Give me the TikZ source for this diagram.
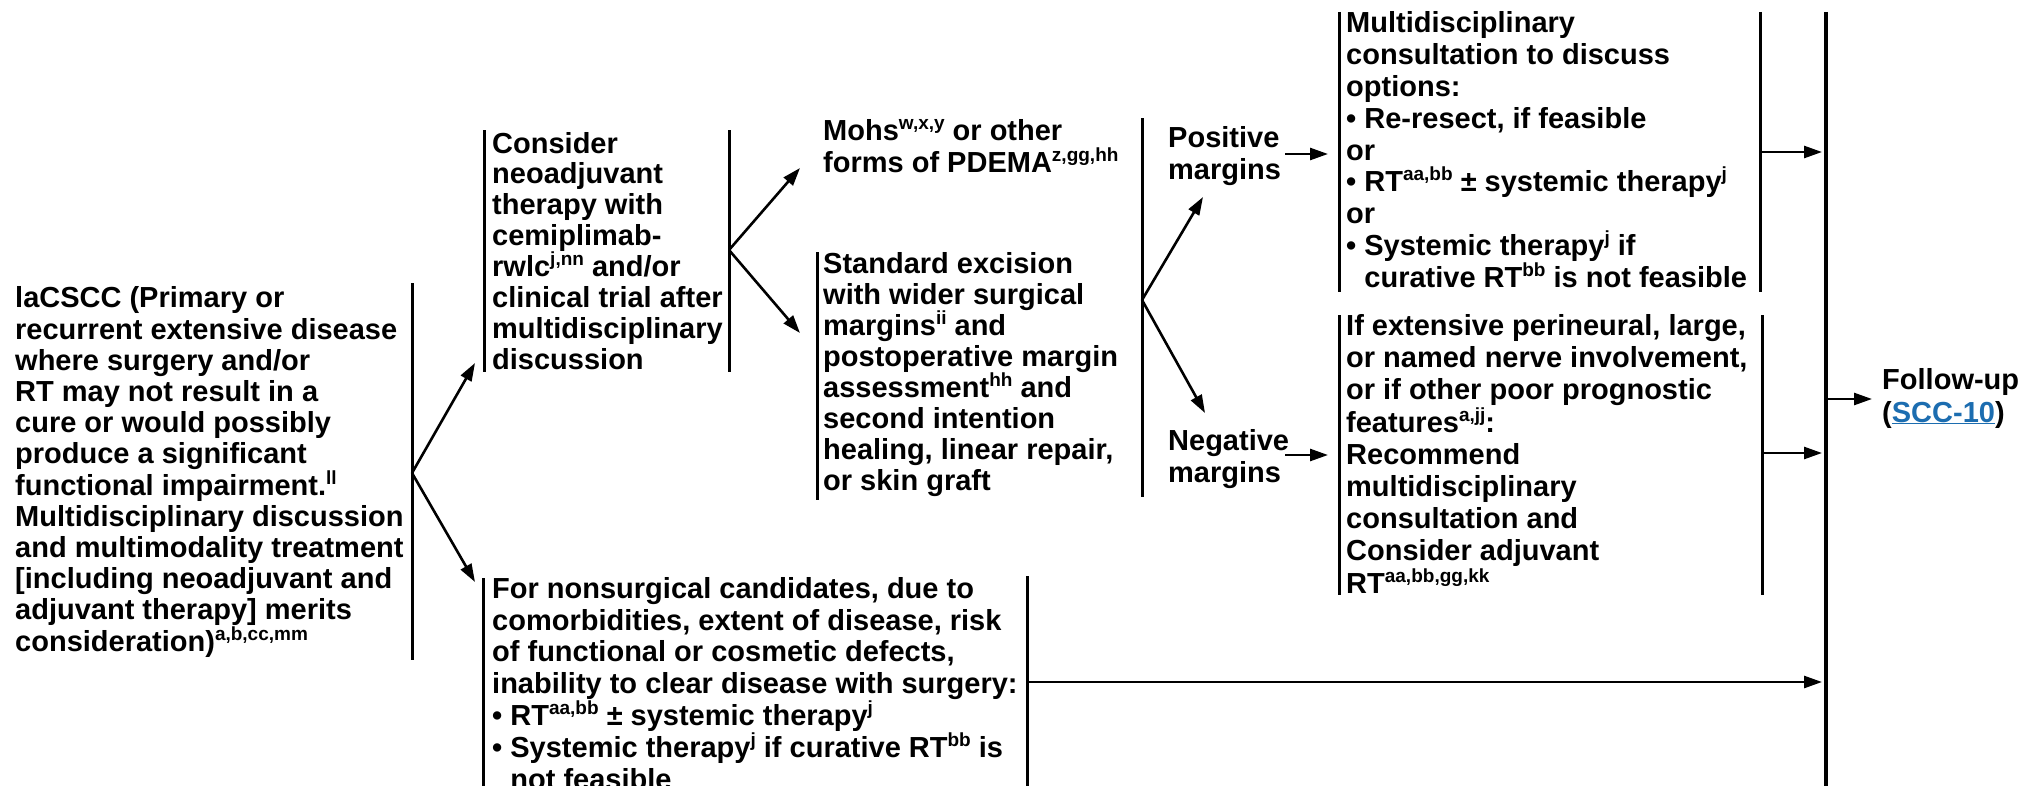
\documentclass[tikz,border=0pt]{standalone}
\usepackage{fontspec}
\setmainfont{Liberation Sans}
\usetikzlibrary{arrows.meta}
\definecolor{linkblue}{HTML}{1C6DB0}
% raised footnote letters
\newcommand{\sups}[1]{\raisebox{11bp}{\fontsize{19bp}{19bp}\selectfont #1}}

\begin{document}
\begin{tikzpicture}[x=1bp,y=-1bp,
  % text blocks are placed by the baseline of their last line
  txt/.style={anchor=base west, inner sep=0pt, align=left,
              font=\fontsize{29bp}{#1}\selectfont\bfseries},
  txt/.default=31.5bp,
  bracket/.style={line width=3bp},
  arr/.style={line width=2.6bp, -{Triangle[length=18bp,width=12bp]}},
]
\useasboundingbox (0,0) rectangle (2022,786);

% ---------- text blocks ----------
\node[txt=31.2bp] (root) at (15,651) {laCSCC (Primary or\\
recurrent extensive disease\\
where surgery and/or\\
RT may not result in a\\
cure or would possibly\\
produce a significant\\
functional impairment.\sups{ll}\\
Multidisciplinary discussion\\
and multimodality treatment\\
{[}including neoadjuvant and\\
adjuvant therapy] merits\\
consideration)\sups{a,b,cc,mm}};

\node[txt=30.7bp] (cons) at (492,369) {Consider\\
neoadjuvant\\
therapy with\\
cemiplimab-\\
rwlc\sups{j,nn} and/or\\
clinical trial after\\
multidisciplinary\\
discussion};

\node[txt=32bp] (mohs) at (823,172) {Mohs\sups{w,x,y} or other\\
forms of PDEMA\sups{z,gg,hh}};

\node[txt=31bp] (std) at (823,490) {Standard excision\\
with wider surgical\\
margins\sups{ii} and\\
postoperative margin\\
assessment\sups{hh} and\\
second intention\\
healing, linear repair,\\
or skin graft};

\node[txt=32bp] (pos) at (1168,179) {Positive\\margins};
\node[txt=32bp] (neg) at (1168,482) {Negative\\margins};

\node[txt=31.75bp] (posbox) at (1346,287) {Multidisciplinary\\
consultation to discuss\\
options:\\
• Re-resect, if feasible\\
or\\
• RT\sups{aa,bb} ± systemic therapy\sups{j}\\
or\\
• Systemic therapy\sups{j} if\\
\phantom{• }curative RT\sups{bb} is not feasible};

\node[txt=32.2bp] (negbox) at (1346,593) {If extensive perineural, large,\\
or named nerve involvement,\\
or if other poor prognostic\\
features\sups{a,jj}:\\
Recommend\\
multidisciplinary\\
consultation and\\
Consider adjuvant\\
RT\sups{aa,bb,gg,kk}};

\node[txt=31.8bp] (nons) at (492,789) {For nonsurgical candidates, due to\\
comorbidities, extent of disease, risk\\
of functional or cosmetic defects,\\
inability to clear disease with surgery:\\
• RT\sups{aa,bb} ± systemic therapy\sups{j}\\
• Systemic therapy\sups{j} if curative RT\sups{bb} is\\
\phantom{• }not feasible};

\node[txt=33bp] (follow) at (1882,422) {Follow-up\\
({\color{linkblue}\underline{SCC-10}})};

% ---------- bracket lines and junction points ----------
\coordinate (rootF) at (412,473);
\draw[bracket] (412,283) -- (412,660);

\draw[bracket] (484,130) -- (484,372);
\coordinate (consIn) at (475,363);
\coordinate (consF) at (729,250);
\draw[bracket] (729,130) -- (729,372);

\coordinate (mohsIn) at (800,168);
\coordinate (stdIn) at (800,333);
\draw[bracket] (817,252) -- (817,500);
\coordinate (surgF) at (1142,300);
\draw[bracket] (1142,118) -- (1142,497);

\coordinate (posIn) at (1203,197);
\coordinate (negIn) at (1205,413);
\coordinate (posOut) at (1285,154);
\coordinate (negOut) at (1285,455);
\coordinate (posBoxIn) at (1328,154);
\coordinate (negBoxIn) at (1328,455);

\draw[bracket] (1339,12) -- (1339,292);
\draw[bracket] (1760,12) -- (1760,292);
\coordinate (posBoxOut) at (1760,152);
\draw[bracket] (1339,315) -- (1339,595);
\draw[bracket] (1762,315) -- (1762,595);
\coordinate (negBoxOut) at (1762,453);

\coordinate (nonsIn) at (475,582);
\draw[bracket] (483,578) -- (483,786);
\draw[bracket] (1027,576) -- (1027,786);
\coordinate (nonsOut) at (1027,682);

\draw[line width=3.2bp] (1826,12) -- (1826,786);
\coordinate (mainPos) at (1822,152);
\coordinate (mainNeg) at (1822,453);
\coordinate (mainNons) at (1822,682);
\coordinate (mainOut) at (1826,399);
\coordinate (followIn) at (1872,399);

% ---------- connectors ----------
\draw[arr] (rootF) -- (consIn);
\draw[arr] (rootF) -- (nonsIn);
\draw[arr] (consF) -- (mohsIn);
\draw[arr] (consF) -- (stdIn);
\draw[arr] (surgF) -- (posIn);
\draw[arr] (surgF) -- (negIn);
\draw[arr] (posOut) -- (posBoxIn);
\draw[arr] (negOut) -- (negBoxIn);
\draw[arr] (posBoxOut) -- (mainPos);
\draw[arr] (negBoxOut) -- (mainNeg);
\draw[arr] (nonsOut) -- (mainNons);
\draw[arr] (mainOut) -- (followIn);
\end{tikzpicture}
\end{document}
